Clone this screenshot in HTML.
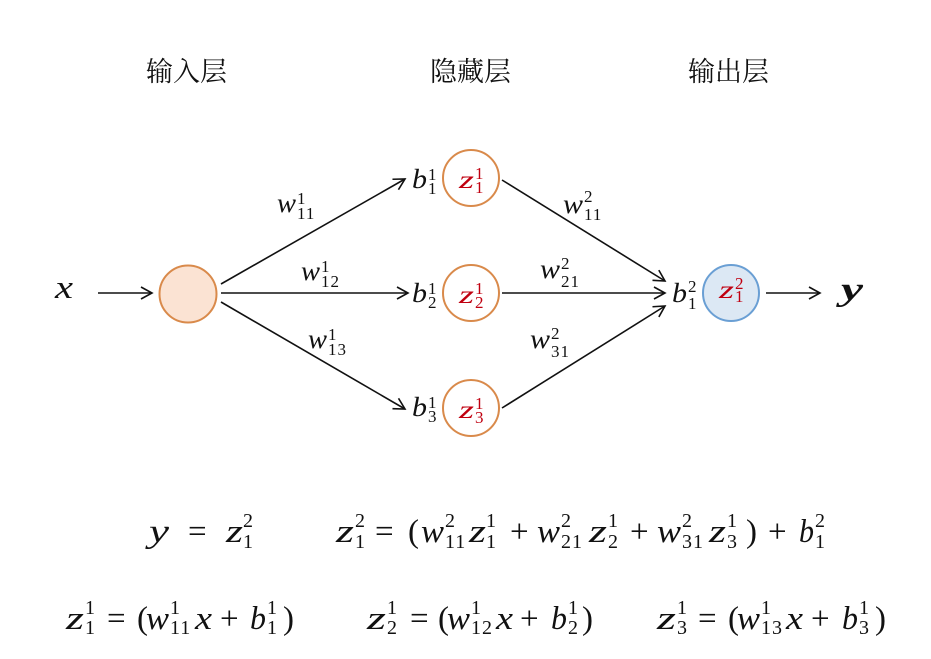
<!DOCTYPE html>
<html><head><meta charset="utf-8">
<style>
html,body{margin:0;padding:0;background:#fff;}
svg{display:block;}
.m{font-family:"Liberation Serif",serif;font-style:italic;fill:#111;}
.n{font-family:"Liberation Serif",serif;fill:#111;}
.h{font-family:"Liberation Serif","Noto Serif CJK SC",serif;font-size:27px;fill:#111;}
.r{fill:#c00010;}
.d{font-size:27px;}
.ds{font-size:17px;}
.e{font-size:33px;}
.es{font-size:20px;}
.cz{font-size:25px;}
.cs{font-size:17px;}
</style></head>
<body>
<svg width="931" height="659" viewBox="0 0 931 659" xmlns="http://www.w3.org/2000/svg">
<defs>
<marker id="a" viewBox="-13 -8 15 16" refX="0" refY="0" markerWidth="15" markerHeight="16" markerUnits="userSpaceOnUse" orient="auto">
<path d="M-11,-6 L0,0 L-11,6" fill="none" stroke="#111" stroke-width="1.6"/>
</marker>
</defs>

<!-- headers -->
<text class="h" x="146" y="81">输入层</text>
<text class="h" x="430" y="81">隐藏层</text>
<text class="h" x="688" y="81">输出层</text>

<!-- connectors -->
<g stroke="#111" stroke-width="1.6" fill="none" marker-end="url(#a)">
<line x1="98" y1="293" x2="152" y2="293"/>
<line x1="221" y1="284" x2="405" y2="179"/>
<line x1="221" y1="293" x2="408" y2="293"/>
<line x1="221" y1="302" x2="405" y2="409"/>
<line x1="502" y1="180" x2="665" y2="281"/>
<line x1="502" y1="293" x2="665" y2="293"/>
<line x1="502" y1="408" x2="665" y2="306"/>
<line x1="766" y1="293" x2="820" y2="293"/>
</g>

<!-- circles -->
<circle cx="188" cy="294" r="28.5" fill="#fbe3d3" stroke="#d98a4b" stroke-width="2"/>
<circle cx="471" cy="178" r="28" fill="#fff" stroke="#d98a4b" stroke-width="2"/>
<circle cx="471" cy="293" r="28" fill="#fff" stroke="#d98a4b" stroke-width="2"/>
<circle cx="471" cy="408" r="28" fill="#fff" stroke="#d98a4b" stroke-width="2"/>
<circle cx="731" cy="293" r="28" fill="#dce8f4" stroke="#6a9fd4" stroke-width="2"/>

<!-- x and y -->
<text class="m" x="55" y="298" font-size="33" textLength="18" lengthAdjust="spacingAndGlyphs">x</text>
<text class="m" x="841" y="300" font-size="33" font-weight="bold" textLength="22" lengthAdjust="spacingAndGlyphs">y</text>

<!-- weight labels layer 1 -->
<text class="m d" x="277" y="212" textLength="19" lengthAdjust="spacingAndGlyphs">w</text><text class="n ds" x="297" y="204">1</text><text class="n ds" x="297" y="219" letter-spacing="1">11</text>
<text class="m d" x="301" y="280" textLength="19" lengthAdjust="spacingAndGlyphs">w</text><text class="n ds" x="321" y="272">1</text><text class="n ds" x="321" y="287" letter-spacing="1">12</text>
<text class="m d" x="308" y="348" textLength="19" lengthAdjust="spacingAndGlyphs">w</text><text class="n ds" x="328" y="340">1</text><text class="n ds" x="328" y="355" letter-spacing="1">13</text>

<!-- weight labels layer 2 -->
<text class="m d" x="563" y="213" textLength="20" lengthAdjust="spacingAndGlyphs">w</text><text class="n ds" x="584" y="202">2</text><text class="n ds" x="584" y="220" letter-spacing="1">11</text>
<text class="m d" x="540" y="278" textLength="20" lengthAdjust="spacingAndGlyphs">w</text><text class="n ds" x="561" y="269">2</text><text class="n ds" x="561" y="287" letter-spacing="1">21</text>
<text class="m d" x="530" y="348" textLength="20" lengthAdjust="spacingAndGlyphs">w</text><text class="n ds" x="551" y="339">2</text><text class="n ds" x="551" y="357" letter-spacing="1">31</text>

<!-- bias labels -->
<text class="m d" x="412" y="188" textLength="15" lengthAdjust="spacingAndGlyphs">b</text><text class="n ds" x="428" y="180">1</text><text class="n ds" x="428" y="194">1</text>
<text class="m d" x="412" y="302" textLength="15" lengthAdjust="spacingAndGlyphs">b</text><text class="n ds" x="428" y="294">1</text><text class="n ds" x="428" y="308">2</text>
<text class="m d" x="412" y="416" textLength="15" lengthAdjust="spacingAndGlyphs">b</text><text class="n ds" x="428" y="408">1</text><text class="n ds" x="428" y="422">3</text>
<text class="m d" x="672" y="302" textLength="15" lengthAdjust="spacingAndGlyphs">b</text><text class="n ds" x="688" y="292">2</text><text class="n ds" x="688" y="309">1</text>

<!-- red z in circles -->
<text class="m cz r" x="459" y="188" textLength="15" lengthAdjust="spacingAndGlyphs">z</text><text class="n cs r" x="475" y="179">1</text><text class="n cs r" x="475" y="193">1</text>
<text class="m cz r" x="459" y="303" textLength="15" lengthAdjust="spacingAndGlyphs">z</text><text class="n cs r" x="475" y="294">1</text><text class="n cs r" x="475" y="308">2</text>
<text class="m cz r" x="459" y="418" textLength="15" lengthAdjust="spacingAndGlyphs">z</text><text class="n cs r" x="475" y="409">1</text><text class="n cs r" x="475" y="423">3</text>
<text class="m cz r" x="719" y="298" textLength="15" lengthAdjust="spacingAndGlyphs">z</text><text class="n cs r" x="735" y="289">2</text><text class="n cs r" x="735" y="302">1</text>

<!-- equation row 1 -->
<text class="m e" x="149" y="542" textLength="20" lengthAdjust="spacingAndGlyphs">y</text>
<text class="n e" x="188" y="542">=</text>
<text class="m e" x="226" y="542" textLength="17" lengthAdjust="spacingAndGlyphs">z</text><text class="n es" x="243" y="527">2</text><text class="n es" x="243" y="548">1</text>

<text class="m e" x="336" y="542" textLength="18" lengthAdjust="spacingAndGlyphs">z</text><text class="n es" x="355" y="527">2</text><text class="n es" x="355" y="548">1</text>
<text class="n e" x="375" y="542">=</text>
<text class="n e" x="408" y="542">(</text>
<text class="m e" x="421" y="542" textLength="23" lengthAdjust="spacingAndGlyphs">w</text><text class="n es" x="445" y="527">2</text><text class="n es" x="445" y="548" letter-spacing="1">11</text>
<text class="m e" x="469" y="542" textLength="17" lengthAdjust="spacingAndGlyphs">z</text><text class="n es" x="486" y="527">1</text><text class="n es" x="486" y="548">1</text>
<text class="n e" x="510" y="542">+</text>
<text class="m e" x="537" y="542" textLength="23" lengthAdjust="spacingAndGlyphs">w</text><text class="n es" x="561" y="527">2</text><text class="n es" x="561" y="548" letter-spacing="1">21</text>
<text class="m e" x="589" y="542" textLength="18" lengthAdjust="spacingAndGlyphs">z</text><text class="n es" x="608" y="527">1</text><text class="n es" x="608" y="548">2</text>
<text class="n e" x="630" y="542">+</text>
<text class="m e" x="657" y="542" textLength="24" lengthAdjust="spacingAndGlyphs">w</text><text class="n es" x="682" y="527">2</text><text class="n es" x="682" y="548" letter-spacing="1">31</text>
<text class="m e" x="709" y="542" textLength="17" lengthAdjust="spacingAndGlyphs">z</text><text class="n es" x="727" y="527">1</text><text class="n es" x="727" y="548">3</text>
<text class="n e" x="746" y="542">)</text>
<text class="n e" x="768" y="542">+</text>
<text class="m e" x="799" y="542" textLength="15" lengthAdjust="spacingAndGlyphs">b</text><text class="n es" x="815" y="527">2</text><text class="n es" x="815" y="548">1</text>

<!-- equation row 2 -->
<g>
<text class="m e" x="66" y="629" textLength="18" lengthAdjust="spacingAndGlyphs">z</text><text class="n es" x="85" y="614">1</text><text class="n es" x="85" y="634">1</text>
<text class="n e" x="107" y="629">=</text>
<text class="n e" x="137" y="629">(</text>
<text class="m e" x="146" y="629" textLength="23" lengthAdjust="spacingAndGlyphs">w</text><text class="n es" x="170" y="614">1</text><text class="n es" x="170" y="634" letter-spacing="1">11</text>
<text class="m e" x="195" y="629" textLength="17" lengthAdjust="spacingAndGlyphs">x</text>
<text class="n e" x="220" y="629">+</text>
<text class="m e" x="250" y="629" textLength="16" lengthAdjust="spacingAndGlyphs">b</text><text class="n es" x="267" y="614">1</text><text class="n es" x="267" y="634">1</text>
<text class="n e" x="283" y="629">)</text>
</g>
<g>
<text class="m e" x="367" y="629" textLength="19" lengthAdjust="spacingAndGlyphs">z</text><text class="n es" x="387" y="614">1</text><text class="n es" x="387" y="634">2</text>
<text class="n e" x="410" y="629">=</text>
<text class="n e" x="438" y="629">(</text>
<text class="m e" x="447" y="629" textLength="23" lengthAdjust="spacingAndGlyphs">w</text><text class="n es" x="471" y="614">1</text><text class="n es" x="471" y="634" letter-spacing="1">12</text>
<text class="m e" x="496" y="629" textLength="17" lengthAdjust="spacingAndGlyphs">x</text>
<text class="n e" x="520" y="629">+</text>
<text class="m e" x="551" y="629" textLength="16" lengthAdjust="spacingAndGlyphs">b</text><text class="n es" x="568" y="614">1</text><text class="n es" x="568" y="634">2</text>
<text class="n e" x="582" y="629">)</text>
</g>
<g>
<text class="m e" x="657" y="629" textLength="19" lengthAdjust="spacingAndGlyphs">z</text><text class="n es" x="677" y="614">1</text><text class="n es" x="677" y="634">3</text>
<text class="n e" x="698" y="629">=</text>
<text class="n e" x="728" y="629">(</text>
<text class="m e" x="737" y="629" textLength="23" lengthAdjust="spacingAndGlyphs">w</text><text class="n es" x="761" y="614">1</text><text class="n es" x="761" y="634" letter-spacing="1">13</text>
<text class="m e" x="786" y="629" textLength="17" lengthAdjust="spacingAndGlyphs">x</text>
<text class="n e" x="811" y="629">+</text>
<text class="m e" x="842" y="629" textLength="16" lengthAdjust="spacingAndGlyphs">b</text><text class="n es" x="859" y="614">1</text><text class="n es" x="859" y="634">3</text>
<text class="n e" x="875" y="629">)</text>
</g>
</svg>
</body></html>
